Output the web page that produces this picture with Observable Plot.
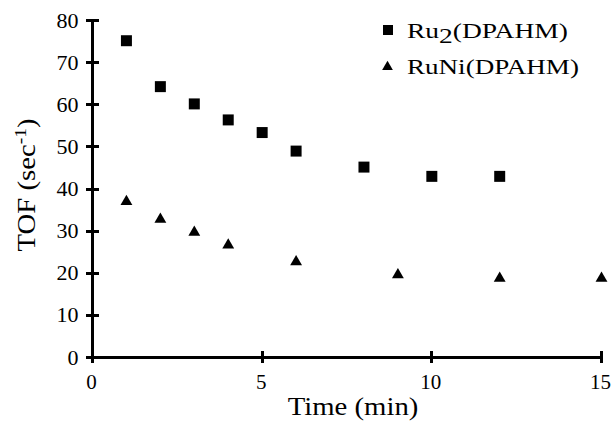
<!DOCTYPE html>
<html>
<head>
<meta charset="utf-8">
<script src="https://cdn.jsdelivr.net/npm/d3@7"></script>
<script src="https://cdn.jsdelivr.net/npm/@observablehq/plot@0.6"></script>
<style>
  body { margin: 0; background: #fff; }
  svg { display: block; }
</style>
</head>
<body>
<div id="chart"></div>
<script>
// Ru2(DPAHM) series
const ru2Time = [1, 2, 3, 4, 5, 6, 8, 10, 12];
const ru2TOF  = [75.2, 64.3, 60.2, 56.4, 53.4, 49.0, 45.2, 43.0, 43.0];
// RuNi(DPAHM) series
const runiTime = [1, 2, 3, 4, 6, 9, 12, 15];
const runiTOF  = [37.0, 32.8, 29.7, 26.7, 22.7, 19.6, 18.8, 18.8];
const xTicks = [0, 5, 10, 15];
const yTicks = [0, 10, 20, 30, 40, 50, 60, 70, 80];
const seriesNames = ["Ru2(DPAHM)", "RuNi(DPAHM)"];

const ru2 = ru2Time.map((t, i) => ({t, v: ru2TOF[i]}));
const runi = runiTime.map((t, i) => ({t, v: runiTOF[i]}));

const font = "'Liberation Serif', 'Times New Roman', serif";
const W = 611, H = 421, mT = 20, mB = 64, mL = 92, mR = 10;

const plot = Plot.plot({
  width: W,
  height: H,
  marginTop: mT,
  marginBottom: mB,
  marginLeft: mL,
  marginRight: mR,
  style: {fontFamily: font, fontSize: "22px", color: "#000", background: "#fff"},
  x: {domain: [0, 15], ticks: xTicks, label: null},
  y: {domain: [0, 80], ticks: yTicks, label: null},
  marks: [
    Plot.axisY({ticks: yTicks, tickSize: 0, tickPadding: 14, fontSize: 22}),
    Plot.axisX({ticks: xTicks, tickSize: 0, tickPadding: 17, dx: -1, fontSize: 21}),
    Plot.dot(ru2, {x: "t", y: "v", symbol: "square", r: 6.2, fill: "#000", stroke: "none"}),
    Plot.dot(runi, {x: "t", y: "v", symbol: "triangle", r: 4.4, fill: "#000", stroke: "none"})
  ]
});

document.getElementById("chart").appendChild(plot);

const svg = d3.select(plot);
const xs = plot.scale("x"), ys = plot.scale("y");
const X = v => Math.round(xs.apply(v)), Y = v => Math.round(ys.apply(v));

// axis lines and crossing ticks, positioned through Plot's own scales
const ax = svg.append("g").attr("fill", "#000");
ax.append("rect").attr("x", X(0) - 1).attr("y", Y(80) - 1).attr("width", 3).attr("height", Y(0) - Y(80) + 3).attr("fill", "#000");
ax.append("rect").attr("x", X(0) - 1).attr("y", Y(0) - 1).attr("width", X(15) - X(0) + 3).attr("height", 3).attr("fill", "#000");
yTicks.forEach(v => ax.append("rect").attr("x", X(0) - 6).attr("y", Y(v) - 1).attr("width", 13).attr("height", 3).attr("fill", "#000"));
xTicks.forEach(v => ax.append("rect").attr("x", X(v) - 1).attr("y", Y(0) - 6).attr("width", 3).attr("height", 12).attr("fill", "#000"));

// Y axis label with superscript
const yl = svg.append("text")
  .attr("transform", "translate(35,185) rotate(-90) scale(1.15,1)")
  .attr("text-anchor", "middle")
  .attr("font-family", font)
  .attr("font-size", 25)
  .attr("fill", "#000");
yl.append("tspan").attr("fill", "#000").text("TOF (sec");
yl.append("tspan").attr("fill", "#000").attr("dy", -9).attr("font-size", 17).text("-1");
yl.append("tspan").attr("fill", "#000").attr("dy", 9).text(")");

// X axis label
svg.append("text")
  .attr("transform", "translate(353,415) scale(1.15,1)")
  .attr("text-anchor", "middle")
  .attr("font-family", font)
  .attr("font-size", 25)
  .attr("fill", "#000")
  .text("Time (min)");

// Legend
const lg = svg.append("g")
  .attr("font-family", font).attr("font-size", 22)
  .attr("text-anchor", "start").attr("fill", "#000");
lg.append("path").attr("transform", "translate(388,30)")
  .attr("d", d3.symbol(d3.symbolSquare, 100)()).attr("fill", "#000");
lg.append("path").attr("transform", "translate(387.5,67)")
  .attr("d", d3.symbol(d3.symbolTriangle, 50)()).attr("fill", "#000");
const t1 = lg.append("text").attr("transform", "translate(407,38) scale(1.25,1)");
t1.append("tspan").text("Ru");
t1.append("tspan").attr("dy", 5).text("2");
t1.append("tspan").attr("dy", -5).text("(DPAHM)");
lg.append("text").attr("transform", "translate(407,74) scale(1.23,1)")
  .text(seriesNames[1]);
</script>
</body>
</html>
